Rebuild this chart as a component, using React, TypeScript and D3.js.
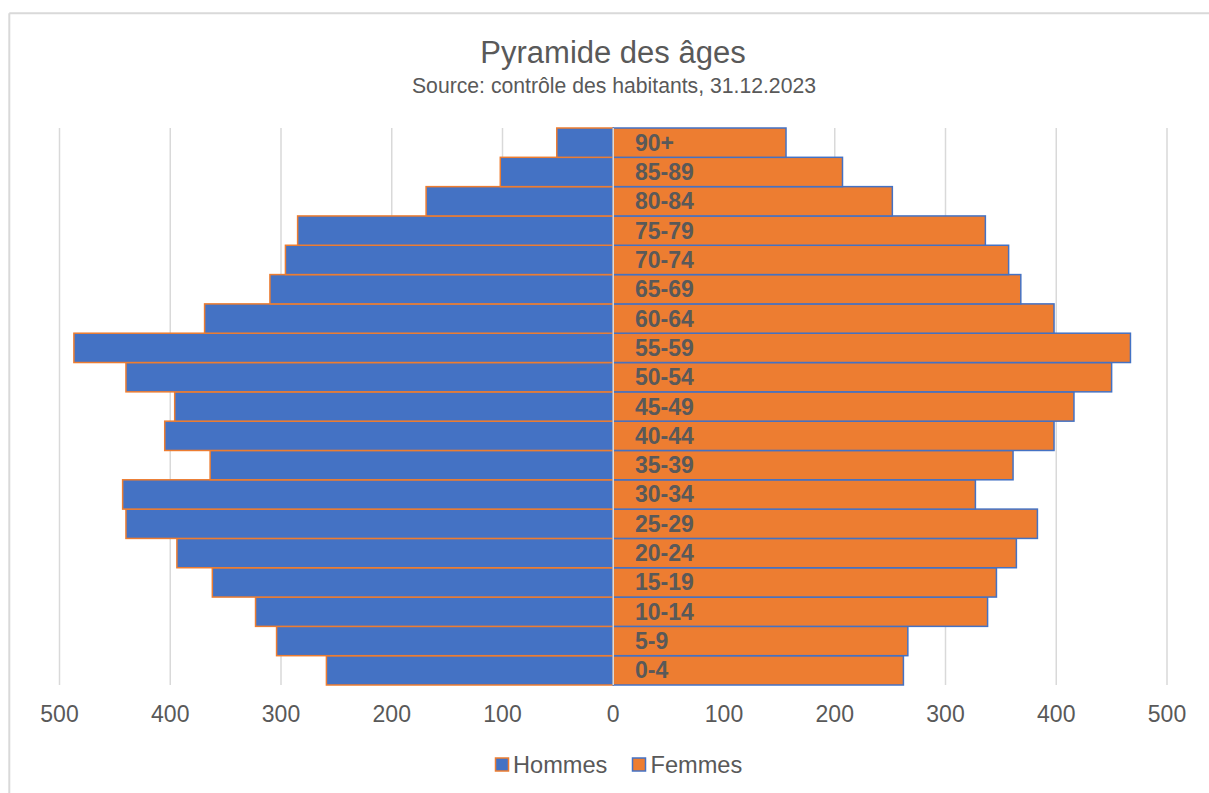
import React from "react";
import * as d3 from "d3";

const categories = ["0-4","5-9","10-14","15-19","20-24","25-29","30-34","35-39","40-44","45-49","50-54","55-59","60-64","65-69","70-74","75-79","80-84","85-89","90+"];
const hommes = [259,304,323,362,394,440,443,364,405,396,440,487,369,310,296,285,169,102,51];
const femmes = [262,266,338,346,364,383,327,361,398,416,450,467,398,368,357,336,252,207,156];
const ticks = [-500,-400,-300,-200,-100,0,100,200,300,400,500];
const title = "Pyramide des âges";
const subtitle = "Source: contrôle des habitants, 31.12.2023";
const seriesNames = ["Hommes", "Femmes"];

const BLUE = "#4472C4";
const ORANGE = "#ED7D31";
const GRID = "#d9d9d9";
const TEXT = "#595959";
const FONT = "'Liberation Sans', Arial, sans-serif";

export default function App() {
  const W = 1209, H = 793;
  const x = d3.scaleLinear().domain([-500, 500]).range([59.5, 1167]);
  const y = d3.scaleBand<string>().domain([...categories].reverse()).range([128, 685]).padding(0);
  const bw = y.bandwidth();
  const top = 128, bottom = 685;

  return (
    <svg width={W} height={H} style={{ position: "fixed", left: 0, top: 0, background: "#fff" }} fontFamily={FONT}>
      <rect x={0} y={0} width={W} height={H} fill="#fff" />
      {/* chart border */}
      <line x1={9.3} x2={W + 5} y1={13.3} y2={13.3} stroke={GRID} strokeWidth={2} />
      <line x1={9.3} x2={9.3} y1={13.3} y2={H + 5} stroke={GRID} strokeWidth={2} />

      <text x={613} y={63} textAnchor="middle" fontSize={31} fill={TEXT}>{title}</text>
      <text x={614} y={93} textAnchor="middle" fontSize={21.2} fill={TEXT}>{subtitle}</text>

      {/* gridlines */}
      {ticks.filter(t => t !== 0).map(t => (
        <line key={t} x1={x(t)} x2={x(t)} y1={top} y2={bottom} stroke={GRID} strokeWidth={1.5} />
      ))}

      {/* bars */}
      {categories.map((c, i) => (
        <g key={c}>
          <rect x={x(-hommes[i])} y={y(c)!} width={x(0) - x(-hommes[i])} height={bw}
            fill={BLUE} stroke={ORANGE} strokeWidth={1.5} />
          <rect x={x(0)} y={y(c)!} width={x(femmes[i]) - x(0)} height={bw}
            fill={ORANGE} stroke={BLUE} strokeWidth={1.5} />
        </g>
      ))}

      {/* zero axis */}
      <line x1={x(0)} x2={x(0)} y1={top} y2={bottom} stroke={GRID} strokeWidth={1.5} />

      {/* category labels */}
      {categories.map(c => (
        <text key={c} x={635} y={y(c)! + bw / 2 + 8} fontSize={23} fontWeight="bold" fill={TEXT}>{c}</text>
      ))}

      {/* tick labels */}
      {ticks.map(t => (
        <text key={t} x={x(t)} y={721.5} textAnchor="middle" fontSize={23} fill={TEXT}>{Math.abs(t)}</text>
      ))}

      {/* legend */}
      <rect x={495.5} y={758} width={13} height={13} fill={BLUE} stroke={ORANGE} strokeWidth={1.5} />
      <text x={513} y={772.5} fontSize={23.6} fill={TEXT}>{seriesNames[0]}</text>
      <rect x={632.5} y={758} width={13} height={13} fill={ORANGE} stroke={BLUE} strokeWidth={1.5} />
      <text x={650.5} y={772.5} fontSize={23.6} fill={TEXT}>{seriesNames[1]}</text>
    </svg>
  );
}
